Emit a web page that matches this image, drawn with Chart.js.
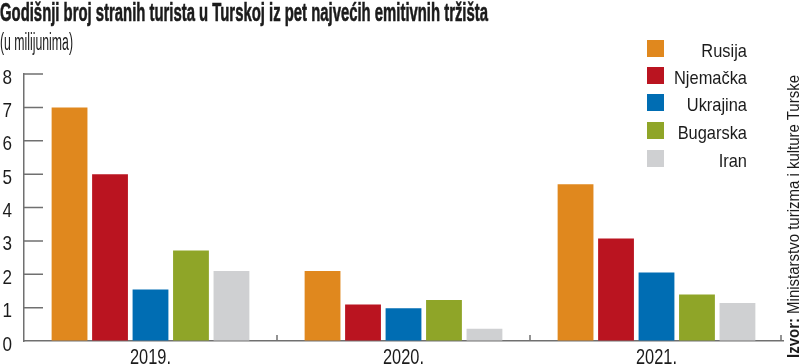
<!DOCTYPE html>
<html>
<head>
<meta charset="utf-8">
<script src="https://cdn.jsdelivr.net/npm/chart.js"></script>
<style>
  html, body { margin: 0; padding: 0; background: #fff; }
  #wrap { position: relative; width: 800px; height: 364px; overflow: hidden; }
  #chart { position: absolute; left: 0; top: 0; }
  .txt {
    position: absolute; white-space: nowrap; transform-origin: 0 0; color: #1b1b1b;
    font-family: 'Liberation Sans', Arial, sans-serif;
  }
  #title { left: 0; top: -2px; font-size: 25px; font-weight: bold; line-height: 28px; -webkit-text-stroke: 0.6px #1b1b1b; }
  #subtitle { left: 0; top: 29px; font-size: 23px; line-height: 26px; }
  #source { left: 785px; top: 358px; font-size: 16px; line-height: 18px; }
</style>
</head>
<body>
<div id="wrap">
  <canvas id="chart" width="800" height="364"></canvas>
  <div class="txt" id="title">Godišnji broj stranih turista u Turskoj iz pet najvećih emitivnih tržišta</div>
  <div class="txt" id="subtitle">(u milijunima)</div>
  <div class="txt" id="source"><b>Izvor:</b> Ministarstvo turizma i kulture Turske</div>
</div>
<script>
  'use strict';

  const FONT = "'Liberation Sans', Arial, sans-serif";

  /* ===== data ===== */
  const years = ['2019.', '2020.', '2021.'];
  const countries = ['Rusija', 'Njemačka', 'Ukrajina', 'Bugarska', 'Iran'];
  const rusija = [7.0, 2.1, 4.7];
  const njemacka = [5.0, 1.09, 3.07];
  const ukrajina = [1.54, 0.98, 2.05];
  const bugarska = [2.71, 1.23, 1.39];
  const iran = [2.1, 0.37, 1.14];
  const yTicks = [0, 1, 2, 3, 4, 5, 6, 7, 8];

  const series = [rusija, njemacka, ukrajina, bugarska, iran];
  const colors = ['#E0881E', '#BA1420', '#006DB3', '#8FA528', '#CFD0D2'];

  // the picture uses a condensed face, so squeeze the texts to its widths
  function fit(id, target, extra) {
    const el = document.getElementById(id);
    const w = el.getBoundingClientRect().width;
    el.style.transform = (extra || '') + ' scaleX(' + (target / w) + ')';
  }
  fit('title', 488);
  fit('subtitle', 73);
  fit('source', 283, 'rotate(-90deg)');

  function squeezed(ctx, text, x, y, sx, align) {
    ctx.save();
    ctx.translate(x, y);
    ctx.scale(sx, 1);
    ctx.textAlign = align;
    ctx.fillText(text, 0, 0);
    ctx.restore();
  }

  /* ===== axis labels, inner ticks, legend ===== */
  const marks = {
    id: 'marks',
    afterDraw(chart) {
      const ctx = chart.ctx;
      const a = chart.chartArea;
      const x = chart.scales.x;
      const y = chart.scales.y;
      ctx.save();
      ctx.strokeStyle = '#707070';
      ctx.lineWidth = 1.5;
      ctx.beginPath();
      yTicks.forEach(v => {
        if (v === 0) return;
        const py = y.getPixelForValue(v);
        ctx.moveTo(a.left, py);
        ctx.lineTo(a.left + 19, py);
      });
      const n = years.length;
      for (let i = 0; i < n; i++) {
        const bx = i < n - 1 ? (x.getPixelForValue(i) + x.getPixelForValue(i + 1)) / 2 : a.right - 2;
        ctx.moveTo(bx, a.bottom);
        ctx.lineTo(bx, a.bottom - 6);
      }
      ctx.stroke();

      ctx.fillStyle = '#1b1b1b';
      ctx.textBaseline = 'alphabetic';
      ctx.font = '21px ' + FONT;
      const sy = 9.5 / ctx.measureText('8').width;
      yTicks.forEach(v => {
        squeezed(ctx, String(v), 12, y.getPixelForValue(v) + 9.5, sy, 'right');
      });
      ctx.font = '22px ' + FONT;
      const sx = 41 / ctx.measureText('2019.').width;
      years.forEach((lab, i) => {
        squeezed(ctx, lab, x.getPixelForValue(i), 364, sx, 'center');
      });

      // legend
      ctx.font = '19px ' + FONT;
      const lx = 73 / ctx.measureText('Njemačka').width;
      const rows = [40, 67, 94, 122, 150];
      chart.data.datasets.forEach((ds, i) => {
        ctx.fillStyle = ds.backgroundColor;
        ctx.fillRect(647, rows[i], 17, 17);
        ctx.fillStyle = '#1b1b1b';
        squeezed(ctx, ds.label, 747, rows[i] + 16.5, lx, 'right');
      });
      ctx.restore();
    }
  };

  new Chart(document.getElementById('chart').getContext('2d'), {
    type: 'bar',
    data: {
      labels: years,
      datasets: countries.map((c, i) => ({
        label: c,
        data: series[i],
        backgroundColor: colors[i],
        borderWidth: 0,
        categoryPercentage: 0.8,
        barPercentage: 0.885
      }))
    },
    options: {
      responsive: false,
      animation: false,
      layout: { padding: { top: 74, right: 17, left: 0, bottom: 0 } },
      plugins: {
        legend: { display: false },
        title: { display: false },
        tooltip: { enabled: false }
      },
      scales: {
        x: {
          grid: { display: true, drawOnChartArea: false, drawTicks: false },
          border: { display: true, color: '#707070', width: 1.5 },
          ticks: { display: false },
          afterFit(scale) { scale.height = 23; }
        },
        y: {
          min: 0,
          max: 8,
          grid: { display: true, drawOnChartArea: false, drawTicks: false },
          border: { display: true, color: '#707070', width: 1.5 },
          ticks: { display: false, stepSize: 1 },
          afterFit(scale) { scale.width = 24; }
        }
      }
    },
    plugins: [marks]
  });
</script>
</body>
</html>
